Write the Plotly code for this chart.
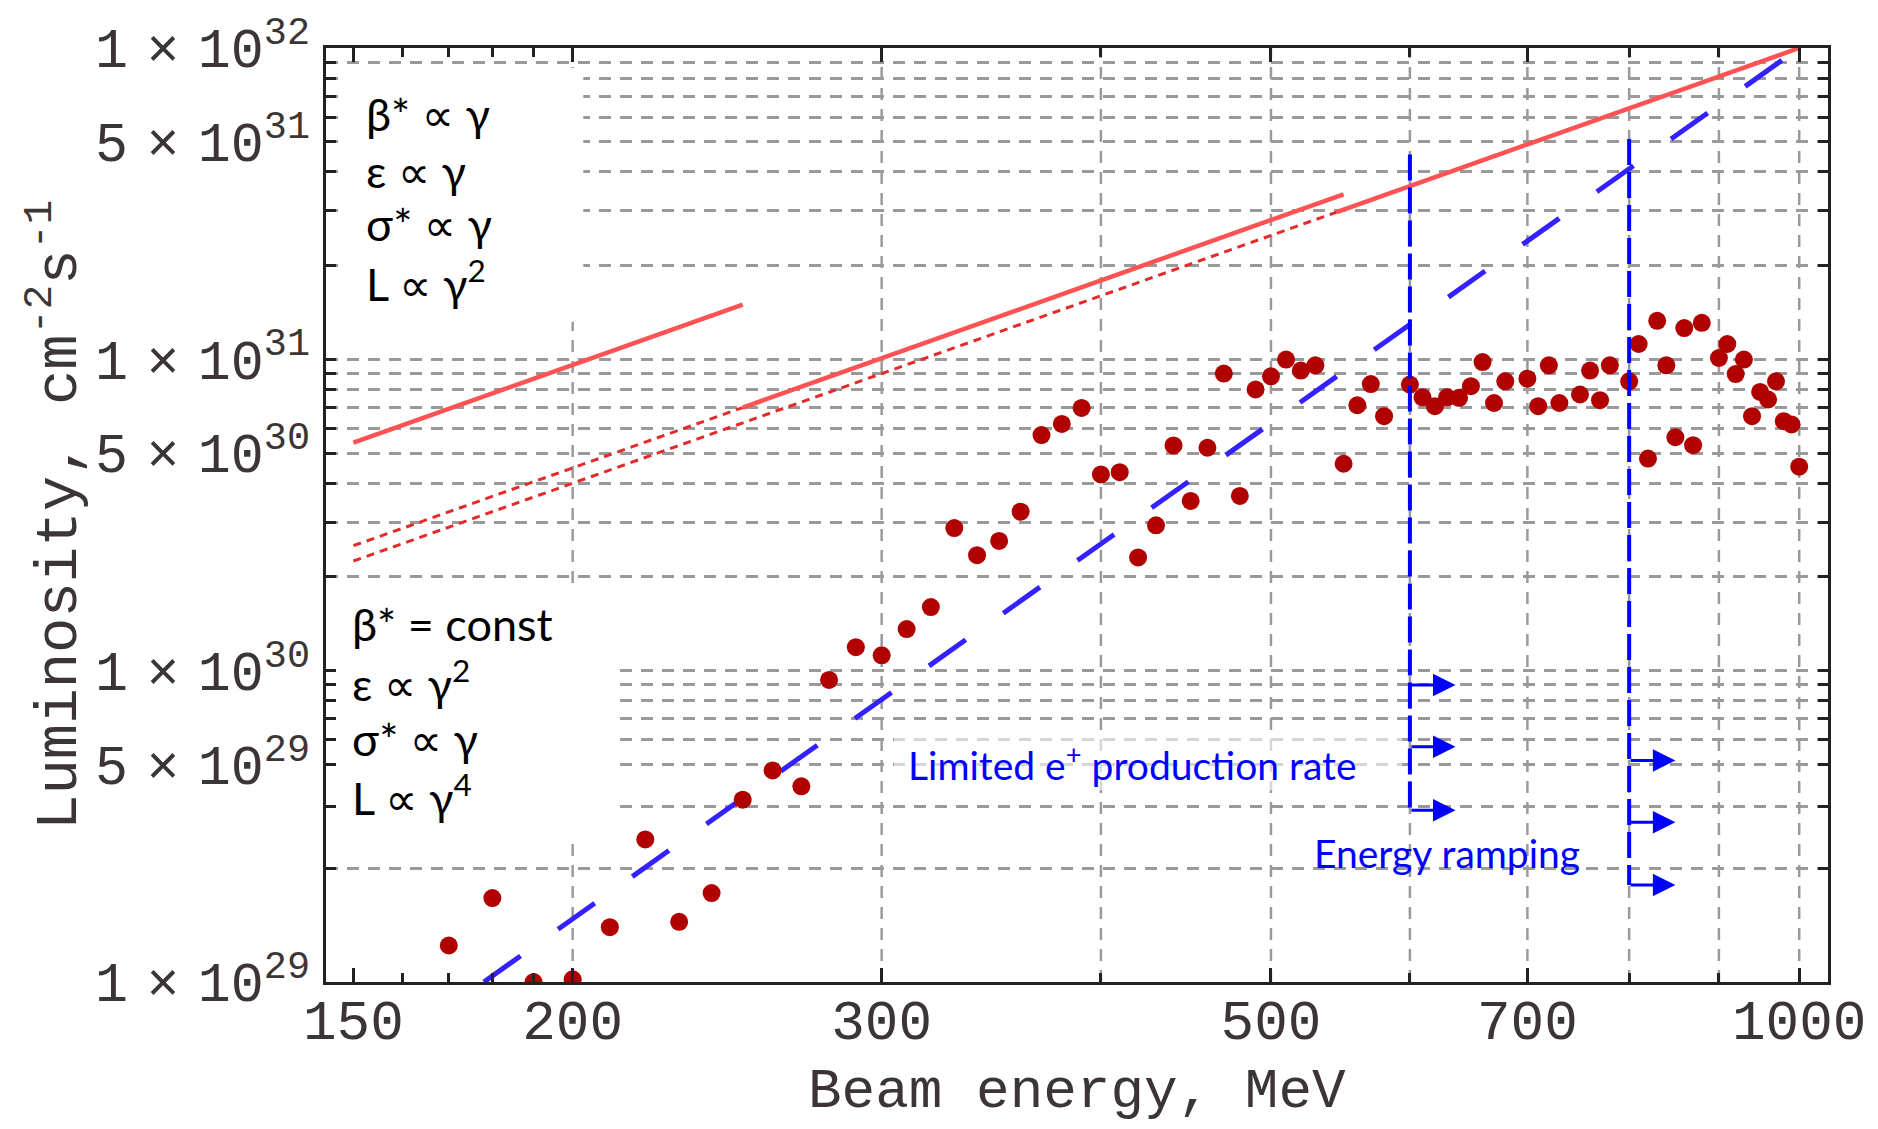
import numpy as np
import plotly.graph_objects as go

# ---------------- data ----------------
energy_mev = [170, 180, 190, 200, 210, 220, 230, 240, 250, 260,
              270, 280, 290, 300, 310, 320, 330, 340, 350, 360,
              370, 380, 390, 400, 410, 420, 430, 440, 450, 460,
              470, 480, 490, 500, 510, 520, 530,
              550, 560, 570, 580,
              600, 610, 620, 630, 640, 650, 660, 670, 680,
              700, 710, 720, 730,
              750, 760, 770, 780,
              800, 810, 820, 830, 840, 850, 860, 870, 880,
              900, 910, 920, 930, 940, 950, 960, 970, 980, 990, 1000]
luminosity = [1.31e29, 1.86e29, 1.00e29, 1.02e29, 1.50e29, 2.87e29, 1.56e29, 1.93e29, 3.85e29, 4.78e29,
              4.25e29, 9.34e29, 1.19e30, 1.12e30, 1.36e30, 1.60e30, 2.87e30, 2.35e30, 2.61e30, 3.24e30,
              5.71e30, 6.20e30, 6.98e30, 4.27e30, 4.34e30, 2.31e30, 2.93e30, 5.29e30, 3.51e30, 5.20e30,
              9.00e30, 3.64e30, 8.00e30, 8.82e30, 9.98e30, 9.20e30, 9.57e30,
              4.62e30, 7.12e30, 8.33e30, 6.57e30,
              8.30e30, 7.55e30, 7.07e30, 7.55e30, 7.52e30, 8.20e30, 9.80e30, 7.24e30, 8.50e30,
              8.67e30, 7.07e30, 9.57e30, 7.24e30,
              7.71e30, 9.20e30, 7.39e30, 9.57e30,
              8.50e30, 1.12e31, 4.80e30, 1.33e31, 9.57e30, 5.62e30, 1.26e31, 5.30e30, 1.31e31,
              1.01e31, 1.12e31, 8.97e30, 9.98e30, 6.57e30, 7.86e30, 7.43e30, 8.50e30, 6.33e30, 6.18e30, 4.52e30]

# scaling lines (end points)
g2_low_e = [150, 250]
g2_low_L = [5.4e30, 1.5e31]
g2_mid_dot_e = [150, 250]
g2_mid_dot_L = [2.52e30, 7.0e30]
g2_mid_e = [250, 550]
g2_mid_L = [7.0e30, 3.39e31]
g2_high_dot_e = [150, 545]
g2_high_dot_L = [2.25e30, 2.97e31]
g2_high_e = [545, 1000]
g2_high_L = [2.97e31, 1.0e32]
g4_e = [178, 1000]
g4_L = [1.0e29, 1.0e32]

# limit markers
limit_e = [600, 800]
limit_top = [4.55e31, 5.1e31]
limit_bottom = [3.56e29, 2.05e29]
arrow_tip_e = [637, 850]
arrow_L = [[9.0e29, 5.7e29, 3.56e29], [5.15e29, 3.26e29, 2.05e29]]

# axes
x_range = [144.7, 1038.5]
x_major = [150, 200, 300, 500, 700, 1000]
x_major_text = ["150", "200", "300", "500", "700", "1000"]
x_minor = [160, 170, 180, 190, 400, 600, 800, 900]
x_grid = [200, 300, 400, 500, 600, 700, 800, 900, 1000]
y_ticks = [1e29, 2.31e29, 3.65e29, 5e29, 6e29, 7e29, 8e29, 9e29,
           1e30, 2e30, 3e30, 4e30, 5e30, 6e30, 7e30, 8e30, 9e30,
           1e31, 2e31, 3e31, 4e31, 5e31, 6e31, 7e31, 8e31, 9e31, 1e32]
y_labelled = {1e29: ("1", 29), 5e29: ("5", 29), 1e30: ("1", 30), 5e30: ("5", 30),
              1e31: ("1", 31), 5e31: ("5", 31), 1e32: ("1", 32)}

SP = "\u2004"
y_text = []
for v in y_ticks:
    if v in y_labelled:
        m, e = y_labelled[v]
        y_text.append(f"{m}{SP}×{SP}10<sup>{e}</sup>")
    else:
        y_text.append("")

AXFONT = "Liberation Mono, Courier New, monospace"
TXTFONT = "Lato, Carlito, DejaVu Sans, sans-serif"
GRID = "#9a9a9a"
FRAME = "#222222"
LABEL = "#3b3535"

fig = go.Figure()

red_solid = dict(color="#ff5252", width=4.5)
red_dot = dict(color="#e42a2a", width=3, dash="8px,6px")

fig.add_trace(go.Scatter(x=g2_mid_dot_e, y=g2_mid_dot_L, mode="lines", line=red_dot))
fig.add_trace(go.Scatter(x=g2_high_dot_e, y=g2_high_dot_L, mode="lines", line=red_dot))
fig.add_trace(go.Scatter(x=g2_low_e, y=g2_low_L, mode="lines", line=red_solid))
fig.add_trace(go.Scatter(x=g2_mid_e, y=g2_mid_L, mode="lines", line=red_solid))
fig.add_trace(go.Scatter(x=g2_high_e, y=g2_high_L, mode="lines", line=red_solid))
fig.add_trace(go.Scatter(x=g4_e, y=g4_L, mode="lines",
                         line=dict(color="#3322ff", width=5, dash="45px,46px")))

fig.add_trace(go.Scatter(x=energy_mev, y=luminosity, mode="markers",
                         marker=dict(color="#b00000", size=18, line=dict(width=0))))

for e, top, bot in zip(limit_e, limit_top, limit_bottom):
    fig.add_trace(go.Scatter(x=[e, e], y=[top, bot], mode="lines",
                             line=dict(color="#0000ff", width=4, dash="26px,7px")))

annotations = []
for e, tip, ys in zip(limit_e, arrow_tip_e, arrow_L):
    for yv in ys:
        annotations.append(dict(x=np.log10(tip), y=np.log10(yv), xref="x", yref="y",
                                ax=np.log10(e), ay=np.log10(yv), axref="x", ayref="y",
                                text="", showarrow=True, arrowhead=2, arrowsize=1.5,
                                arrowwidth=3, arrowcolor="#0000ff", standoff=0, startstandoff=0))

# grid lines (vertical) and white text boxes, drawn between grid and data
shapes = []
for v in x_grid:
    shapes.append(dict(type="line", xref="x", yref="y", x0=v, x1=v, y0=1e29, y1=1e32,
                       line=dict(color=GRID, width=2.5, dash="12px,9px"), layer="between"))
shapes.append(dict(type="rect", xref="x", yref="y", x0=148.6, x1=202.8, y0=1.32e31, y1=8.63e31,
                   fillcolor="white", line=dict(width=0), layer="between"))
shapes.append(dict(type="rect", xref="x", yref="y", x0=144.7, x1=212.3, y0=2.96e29, y1=1.805e30,
                   fillcolor="white", line=dict(width=0), layer="between"))
shapes.append(dict(type="rect", xref="x", yref="y", x0=304.9, x1=593.9, y0=4.13e29, y1=6.19e29,
                   fillcolor="white", opacity=0.6, line=dict(width=0), layer="between"))

def px_x(fx):
    return (fx - 326) / 1513.0

def px_y(fy):
    return (982 - fy) / 936.0

upper_lines = ["β* ∝ γ", "ε ∝ γ", "σ* ∝ γ", "L ∝ γ<sup>2</sup>"]
upper_y = [112, 169, 222, 279]
for t, fy in zip(upper_lines, upper_y):
    annotations.append(dict(x=px_x(364), y=px_y(fy), xref="paper", yref="paper", text=t,
                            showarrow=False, xanchor="left", yanchor="middle",
                            font=dict(family=TXTFONT, size=45, color="black")))
lower_lines = ["β* = const", "ε ∝ γ<sup>2</sup>", "σ* ∝ γ", "L ∝ γ<sup>4</sup>"]
lower_y = [623, 680, 738, 795]
for t, fy in zip(lower_lines, lower_y):
    annotations.append(dict(x=px_x(350), y=px_y(fy), xref="paper", yref="paper", text=t,
                            showarrow=False, xanchor="left", yanchor="middle",
                            font=dict(family=TXTFONT, size=45, color="black")))

annotations.append(dict(x=px_x(910), y=px_y(762), xref="paper", yref="paper",
                        text="Limited e<sup>+</sup> production rate", showarrow=False,
                        xanchor="left", yanchor="middle",
                        font=dict(family=TXTFONT, size=39, color="#0000ff")))
annotations.append(dict(x=px_x(1319), y=px_y(853), xref="paper", yref="paper",
                        text="Energy ramping", showarrow=False,
                        xanchor="left", yanchor="middle",
                        font=dict(family=TXTFONT, size=39, color="#0000ff")))

annotations.append(dict(x=px_x(53), y=0.5, xref="paper", yref="paper",
                        text="Luminosity, cm<sup>-2</sup>s<sup>-1</sup>", textangle=-90,
                        showarrow=False, xanchor="center", yanchor="middle",
                        font=dict(family=AXFONT, size=59, color=LABEL)))
annotations.append(dict(x=0.5, y=px_y(1092), xref="paper", yref="paper",
                        text="Beam energy, MeV", showarrow=False,
                        xanchor="center", yanchor="middle",
                        font=dict(family=AXFONT, size=56, color=LABEL)))

fig.update_layout(
    width=1878, height=1129, autosize=False,
    margin=dict(l=326, r=39, t=46, b=147),
    paper_bgcolor="white", plot_bgcolor="white",
    showlegend=False,
    shapes=shapes,
    annotations=annotations,
    xaxis=dict(type="log", range=[np.log10(x_range[0]), np.log10(x_range[1])],
               tickmode="array", tickvals=x_major, ticktext=x_major_text,
               ticks="inside", ticklen=14, tickwidth=2.5, tickcolor=FRAME,
               showline=True, linewidth=3, linecolor=FRAME, mirror="ticks",
               showgrid=False, zeroline=False, ticklabelstandoff=-13,
               tickfont=dict(family=AXFONT, size=56, color=LABEL),
               minor=dict(tickmode="array", tickvals=x_minor, ticks="inside", ticklen=9,
                          tickwidth=2.5, tickcolor=FRAME, showgrid=False)),
    yaxis=dict(type="log", range=[29, 32],
               tickmode="array", tickvals=y_ticks, ticktext=y_text,
               ticks="inside", ticklen=10, tickwidth=2.5, tickcolor=FRAME,
               showline=True, linewidth=3, linecolor=FRAME, mirror="ticks",
               showgrid=True, gridcolor=GRID, gridwidth=2.5, griddash="12px,9px",
               zeroline=False, ticklabelstandoff=2,
               tickfont=dict(family=AXFONT, size=55, color=LABEL)),
)

# remove page margins/scrollbars and let the figure span the real window width
fig.write_html(
    "out.html",
    config={"displayModeBar": False, "responsive": False},
    post_script=("document.documentElement.style.margin='0';"
                 "document.documentElement.style.overflow='hidden';"
                 "document.body.style.margin='0';document.body.style.overflow='hidden';"
                 "var gd=document.getElementById('{plot_id}');"
                 "var W=Math.max(window.innerWidth||1878,1878);var s=W/1878;"
                 "gd.style.width=W+'px';gd.style.height='1129px';"
                 "Plotly.relayout(gd,{width:W,height:1129,'margin.l':326*s,'margin.r':39*s});"),
)
